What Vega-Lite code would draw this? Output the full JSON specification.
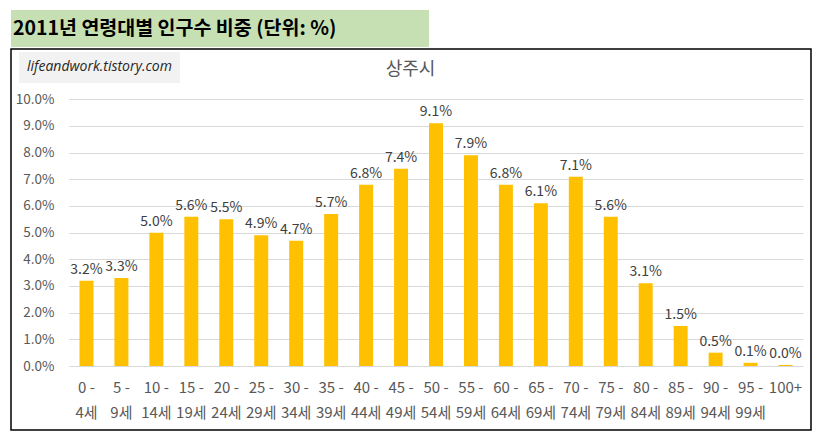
{
  "$schema": "https://vega.github.io/schema/vega-lite/v6.json",
  "padding": {"left": 10, "top": 10, "right": 4, "bottom": 8},
  "background": "white",
  "spacing": 1,
  "config": {
    "font": "Noto Sans CJK KR",
    "axis": {
      "labelFont": "Noto Sans CJK KR",
      "labelColor": "#595959",
      "domain": false,
      "ticks": false,
      "tickSize": 0
    },
    "view": {"stroke": null}
  },
  "vconcat": [
    {
      "width": 418,
      "height": 37,
      "view": {"fill": "#C6E0B4", "stroke": null},
      "data": {"values": [{"heading": "2011년 연령대별 인구수 비중 (단위: %)"}]},
      "mark": {
        "type": "text",
        "align": "left",
        "baseline": "middle",
        "dx": -207,
        "fontSize": 19.5,
        "fontWeight": "bold",
        "color": "#000000"
      },
      "encoding": {"text": {"field": "heading"}}
    },
    {
      "width": 800,
      "height": 381,
      "view": {"stroke": "#000000", "strokeWidth": 1.5},
      "data": {
        "values": [
          {"age": "0 -|4세", "share": 0.032},
          {"age": "5 -|9세", "share": 0.033},
          {"age": "10 -|14세", "share": 0.050},
          {"age": "15 -|19세", "share": 0.056},
          {"age": "20 -|24세", "share": 0.055},
          {"age": "25 -|29세", "share": 0.049},
          {"age": "30 -|34세", "share": 0.047},
          {"age": "35 -|39세", "share": 0.057},
          {"age": "40 -|44세", "share": 0.068},
          {"age": "45 -|49세", "share": 0.074},
          {"age": "50 -|54세", "share": 0.091},
          {"age": "55 -|59세", "share": 0.079},
          {"age": "60 -|64세", "share": 0.068},
          {"age": "65 -|69세", "share": 0.061},
          {"age": "70 -|74세", "share": 0.071},
          {"age": "75 -|79세", "share": 0.056},
          {"age": "80 -|84세", "share": 0.031},
          {"age": "85 -|89세", "share": 0.015},
          {"age": "90 -|94세", "share": 0.005},
          {"age": "95 -|99세", "share": 0.0012},
          {"age": "100+", "share": 0.0004}
        ]
      },
      "encoding": {
        "x": {
          "field": "age",
          "type": "nominal",
          "sort": null,
          "scale": {"type": "band", "range": [58, 792], "paddingInner": 0.6, "paddingOuter": 0.3},
          "axis": {
            "orient": "bottom",
            "offset": -64,
            "title": null,
            "labelAngle": 0,
            "labelExpr": "split(datum.label, '|')",
            "labelFontSize": 15,
            "labelPadding": 14,
            "labelBaseline": "top",
            "labelLineHeight": 25,
            "grid": false
          }
        },
        "y": {
          "field": "share",
          "type": "quantitative",
          "scale": {"domain": [0, 0.1], "range": [317, 50.3], "nice": false, "zero": true},
          "axis": {
            "orient": "left",
            "offset": -47,
            "labelPadding": 4,
            "format": ".1%",
            "values": [0, 0.01, 0.02, 0.03, 0.04, 0.05, 0.06, 0.07, 0.08, 0.09, 0.1],
            "grid": true,
            "gridColor": "#D9D9D9",
            "labelFontSize": 13.5,
            "title": "상주시",
            "titleAngle": 0,
            "titleAlign": "center",
            "titleBaseline": "middle",
            "titleX": 352,
            "titleY": 20,
            "titleFont": "Noto Sans CJK KR",
            "titleFontSize": 18,
            "titleFontWeight": "normal",
            "titleColor": "#595959"
          }
        }
      },
      "layer": [
        {
          "mark": {"type": "bar"},
          "encoding": {
            "color": {
              "datum": "상주시",
              "scale": {"range": ["#FFC000"]},
              "legend": {
                "title": "lifeandwork.tistory.com",
                "orient": "none",
                "legendX": 8,
                "legendY": 42,
                "fillColor": "#F2F2F2",
                "padding": 8,
                "titleFont": "Open Sans",
                "titleFontStyle": "italic",
                "titleFontWeight": "normal",
                "titleFontSize": 14,
                "titleColor": "#262626",
                "titlePadding": 0,
                "titleLimit": 300,
                "labelExpr": "''",
                "labelFontSize": 1,
                "symbolSize": 0,
                "symbolOpacity": 0,
                "symbolStrokeWidth": 0,
                "rowPadding": 0
              }
            }
          }
        },
        {
          "mark": {"type": "text", "baseline": "bottom", "dy": -4, "fontSize": 14, "color": "#404040"},
          "encoding": {"text": {"field": "share", "format": ".1%"}}
        }
      ]
    }
  ]
}
